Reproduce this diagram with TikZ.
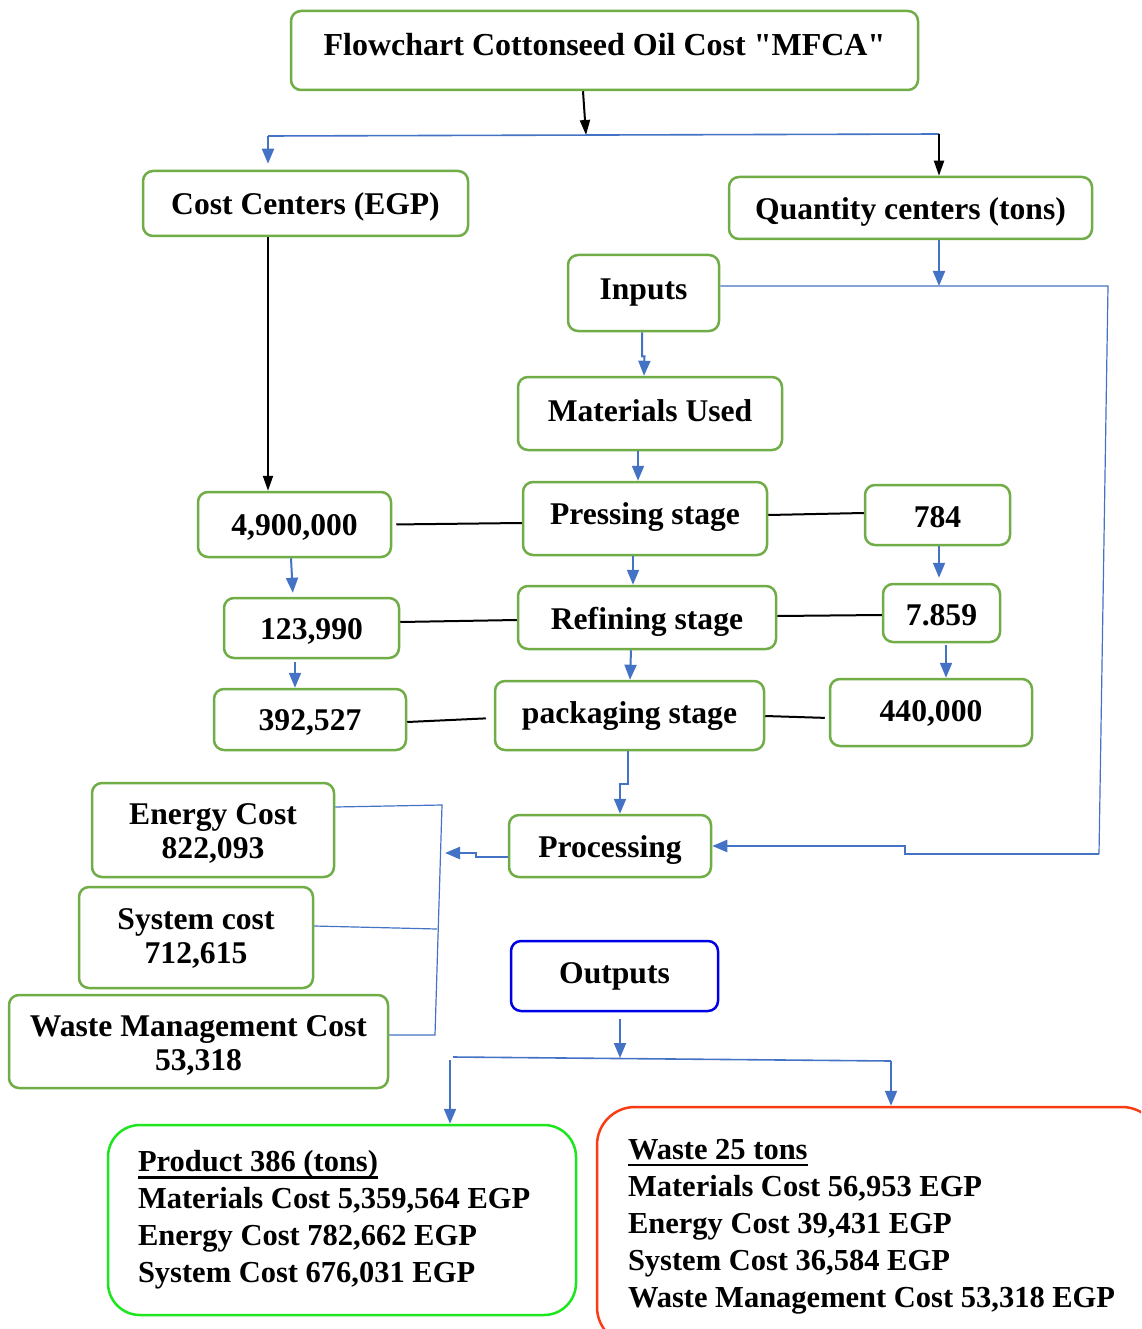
\documentclass[tikz,border=0pt]{standalone}
\usepackage{fontspec}
\setmainfont{Liberation Serif}[Ligatures=TeXOff]
\usetikzlibrary{arrows.meta}
\definecolor{bgreen}{RGB}{112,173,71}
\definecolor{lblue}{RGB}{68,114,196}
\definecolor{outblue}{RGB}{0,0,230}
\definecolor{pgreen}{RGB}{30,230,30}
\definecolor{wred}{RGB}{250,60,20}
\newcommand\thickul[1]{\setbox0\hbox{#1}\rlap{\rule[-7pt]{\wd0}{2.6pt}}\box0}
\newcommand\rs[2]{\raisebox{#1}[\height][\depth]{#2}}
\newcommand\twol[2]{\begin{tabular}{@{}c@{}}#1\\#2\end{tabular}}
\tikzset{
  gbox/.style={draw=bgreen, line width=2.5pt, rounded corners=10pt, fill=white, inner sep=0pt, align=center},
  barr/.style={draw=lblue, line width=2pt, -{Triangle[length=15pt,width=12pt]}},
  karr/.style={draw=black, line width=2pt, -{Triangle[length=15pt,width=10pt]}},
  kline/.style={draw=black, line width=2pt},
  thinb/.style={draw=lblue, line width=1.2pt},
  midb/.style={draw=lblue, line width=1.6pt},
  bigtext/.style={font=\fontsize{30.5}{37}\selectfont\bfseries, inner sep=0pt}
}
\begin{document}
\begin{tikzpicture}[x=1pt,y=-1pt, font=\fontsize{31.6}{34}\selectfont\bfseries]
\useasboundingbox (0,0) rectangle (1141,1329);
\clip (0,0) rectangle (1141,1329);

% boxes
\node[gbox, minimum width=627pt, minimum height=79pt, font=\fontsize{32}{36}\selectfont\bfseries, text depth=13pt] (title) at (604.5,50.5) {Flowchart Cottonseed Oil Cost "MFCA"};
\node[gbox, minimum width=325pt, minimum height=65pt] (cc) at (305.5,203.5) {\rs{-3.5pt}{Cost Centers (EGP)}};
\node[gbox, minimum width=363pt, minimum height=62pt] (qc) at (910.5,208) {\rs{-4pt}{Quantity centers (tons)}};
\node[gbox, minimum width=151pt, minimum height=76pt] (inputs) at (643.5,293) {Inputs};
\node[gbox, minimum width=264pt, minimum height=73pt] (mat) at (650,413.5) {\rs{3pt}{Materials Used}};
\node[gbox, minimum width=244pt, minimum height=73pt] (press) at (645,518.5) {\rs{1pt}{Pressing stage}};
\node[gbox, minimum width=193pt, minimum height=65pt] (n4900) at (294.5,524.5) {\rs{-3pt}{4,900,000}};
\node[gbox, minimum width=145pt, minimum height=60pt] (n784) at (937.5,515) {\rs{-2pt}{784}};
\node[gbox, minimum width=258pt, minimum height=63pt] (refine) at (647,617.5) {\rs{-4pt}{Refining stage}};
\node[gbox, minimum width=175pt, minimum height=60pt] (n123) at (311.5,628) {\rs{-3pt}{123,990}};
\node[gbox, minimum width=117pt, minimum height=58pt] (n7859) at (941.5,613) {\rs{-2pt}{7.859}};
\node[gbox, minimum width=269pt, minimum height=69pt] (pack) at (629.5,715.5) {\rs{-1pt}{packaging stage}};
\node[gbox, minimum width=192pt, minimum height=61pt] (n392) at (310,719.5) {\rs{-3pt}{392,527}};
\node[gbox, minimum width=202pt, minimum height=67pt] (n440) at (931,712.5) {\rs{-1pt}{440,000}};
\node[gbox, minimum width=242pt, minimum height=94pt] (energy) at (213,830) {\rs{-5pt}{\twol{Energy Cost}{822,093}}};
\node[gbox, minimum width=234pt, minimum height=101pt] (system) at (196,937.5) {\rs{-2pt}{\twol{System cost}{712,615}}};
\node[gbox, minimum width=379pt, minimum height=93pt] (wastem) at (198.5,1041.5) {\rs{-5pt}{\twol{Waste Management Cost}{53,318}}};
\node[gbox, minimum width=202pt, minimum height=62pt] (proc) at (610,846) {\rs{-4pt}{Processing}};
\node[gbox, draw=outblue, minimum width=207pt, minimum height=70pt] (outputs) at (614.5,976) {Outputs};
\node[gbox, bigtext, draw=pgreen, rounded corners=32pt, minimum width=468pt, minimum height=190pt] (product) at (342,1220)
  {\makebox[408pt][l]{\begin{tabular}{@{}l@{}}\thickul{Product 386 (tons)}\\Materials Cost 5,359,564 EGP\\Energy Cost 782,662 EGP\\System Cost 676,031 EGP\end{tabular}}};
\node[gbox, bigtext, draw=wred, rounded corners=38pt, minimum width=563pt, minimum height=238pt] (waste) at (878.5,1226)
  {\makebox[501pt][l]{\begin{tabular}{@{}l@{}}\thickul{Waste 25 tons}\\Materials Cost 56,953 EGP\\Energy Cost 39,431 EGP\\System Cost 36,584 EGP\\Waste Management Cost 53,318 EGP\end{tabular}}};

% coordinates
\coordinate (j1) at (586,135);
\coordinate (jl) at (268,136);
\coordinate (jr) at (939,134);
\coordinate (cx) at (268,0);
\coordinate (qin) at (939,286);
\coordinate (r1) at (1108,286);
\coordinate (r2) at (1099,854);
\coordinate (r3) at (905,854);
\coordinate (r4) at (905,846);
\coordinate (pl) at (445,853);
\coordinate (bt) at (442,805);
\coordinate (bb) at (435,1035);
\coordinate (sysj) at (437,929);
\coordinate (oj) at (620,1058);
\coordinate (bl) at (453,1057);
\coordinate (brr) at (891,1061);
\coordinate (bl2) at (450,1060);

% top split
\draw[karr] ([xshift=-21.5pt]title.south) -- (j1);
\draw[midb] (jl) -- (jr);
\draw[barr, shorten >=6pt] (jl) -- (cc.north -| jl);
\draw[karr] (jr) -- (qc.north -| jr);
\draw[karr] (cc.south -| cx) -- (n4900.north -| cx);
\draw[barr] (qc.south -| qin) -- (qin);

% right loop to processing
\draw[thinb] ([yshift=7pt]inputs.east) -- (r1) -- (r2);
\draw[barr, line width=2.4pt] (r2) -- (r3) -- (r4) -- (proc.east);

% central chain
\draw[barr] ([xshift=-1.5pt]inputs.south) -- ++(0,24) -- ++(2.5,0) -- ([xshift=-6pt]mat.north);
\draw[barr] ([xshift=-12pt]mat.south) -- ([xshift=-7pt]press.north);
\draw[barr] ([xshift=-12pt]press.south) -- ([xshift=-14pt]refine.north);
\draw[barr] ([xshift=-16pt]refine.south) -- ([xshift=0.5pt]pack.north);
\draw[barr] ([xshift=-1.5pt]pack.south) -- ++(0,33) -| ([xshift=10pt]proc.north);

% left chain
\draw[barr, shorten >=4pt] ([xshift=-3.5pt]n4900.south) -- ([xshift=-18.5pt]n123.north);
\draw[barr, shorten <=3pt] ([xshift=-16.5pt]n123.south) -- ([xshift=-15pt]n392.north);
% right chain
\draw[barr, shorten >=5pt] ([xshift=1.5pt]n784.south) -- ([xshift=-2.5pt]n7859.north);
\draw[barr, shorten <=2pt] ([xshift=4.5pt]n7859.south) -- ([xshift=15pt]n440.north);

% black links
\draw[kline, shorten <=4pt] (n4900.east) -- ([yshift=-4.5pt]press.west);
\draw[kline] ([yshift=3.5pt]press.east) -- ([yshift=2pt]n784.west);
\draw[kline] ([yshift=6pt]n123.east) -- ([yshift=-2.5pt]refine.west);
\draw[kline] ([yshift=1.5pt]refine.east) -- ([yshift=-2pt]n7859.west);
\draw[kline, shorten >=8pt] ([yshift=-2.5pt]n392.east) -- ([yshift=-2.5pt]pack.west);
\draw[kline, shorten >=4pt] ([yshift=-0.5pt]pack.east) -- ([yshift=-5.5pt]n440.west);

% processing to cost boxes
\draw[barr, line width=2.4pt] ([yshift=-11pt]proc.west) -- ++(-32,0) -- ++(0,-4) -- (pl);
\draw[thinb] ([yshift=23pt]energy.east) -- (bt) -- (bb) -- ([yshift=6.5pt]wastem.east);
\draw[thinb] ([yshift=11.5pt]system.east) -- (sysj);

% outputs
\draw[barr, shorten <=7pt] ([xshift=5.5pt]outputs.south) -- (oj);
\draw[midb] (bl) -- (brr);
\draw[barr] (brr) -- (waste.north -| brr);
\draw[barr] (bl2) -- (product.north -| bl2);
\end{tikzpicture}
\end{document}
